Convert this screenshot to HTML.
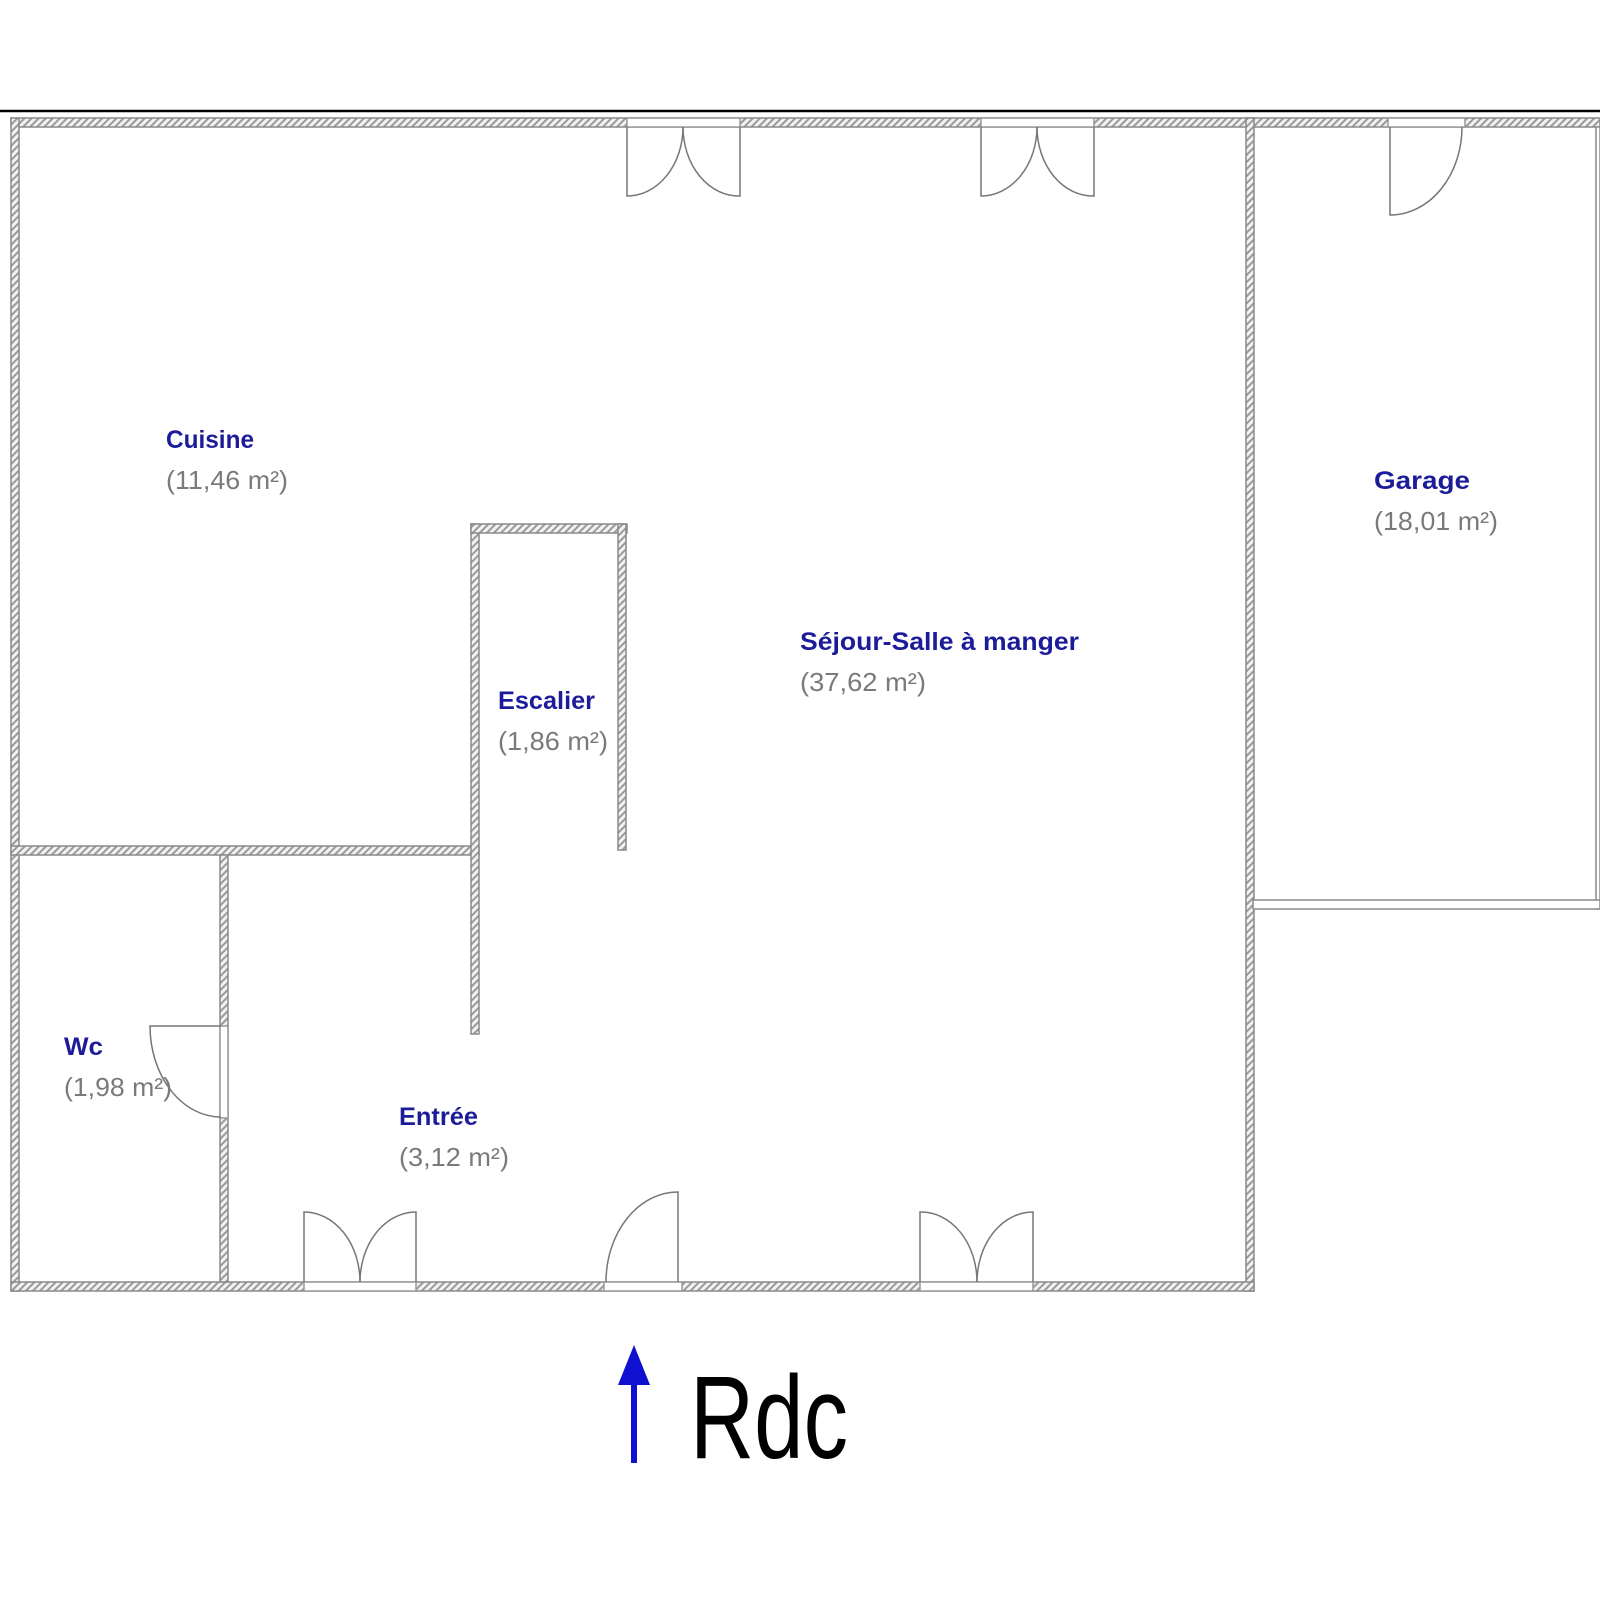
<!DOCTYPE html>
<html><head><meta charset="utf-8"><style>
html,body{margin:0;padding:0;background:#fff;}
svg{display:block;}
.l{font-family:"Liberation Sans",sans-serif;font-weight:bold;font-size:25px;fill:#1c1c9a;}
.a{font-family:"Liberation Sans",sans-serif;font-size:26px;fill:#7a7a7a;}
</style></head><body>
<svg width="1600" height="1600" viewBox="0 0 1600 1600" xmlns="http://www.w3.org/2000/svg">
<defs>
<pattern id="h" width="5" height="5" patternUnits="userSpaceOnUse" patternTransform="rotate(45)">
<rect width="5" height="5" fill="#f2f2f2"/><rect width="2" height="5" fill="#9a9a9a"/>
</pattern>
</defs>
<line x1="0" y1="111" x2="1600" y2="111" stroke="#000" stroke-width="2.5"/>
<g fill="url(#h)" stroke="#8a8a8a" stroke-width="1.5">
<!-- top wall main -->
<rect x="11" y="118" width="1242" height="9"/>
<!-- garage top -->
<rect x="1253" y="118" width="347" height="9"/>
<!-- left -->
<rect x="11" y="118" width="8" height="1173"/>
<!-- main right -->
<rect x="1246" y="118" width="8" height="1173"/>
<!-- bottom -->
<rect x="11" y="1282" width="1243" height="9"/>
<!-- cuisine/wc horizontal -->
<rect x="11" y="846" width="468" height="9"/>
<!-- escalier left -->
<rect x="471" y="524" width="8" height="510"/>
<!-- escalier top -->
<rect x="471" y="524" width="156" height="9"/>
<!-- escalier right -->
<rect x="618" y="524" width="8" height="326"/>
<!-- wc wall -->
<rect x="220" y="855" width="8" height="427"/>
</g>
<!-- garage right & bottom (plain) -->
<rect x="1596" y="127" width="4" height="782" fill="#fff" stroke="#8a8a8a" stroke-width="1.5"/>
<rect x="1253" y="900" width="347" height="9" fill="#fff" stroke="#8a8a8a" stroke-width="1.5"/>
<!-- door openings -->
<g fill="#fff" stroke="#999" stroke-width="1.5">
<rect x="627" y="118" width="113" height="9"/>
<rect x="981" y="118" width="113" height="9"/>
<rect x="1388" y="118" width="77" height="9"/>
<rect x="304" y="1282" width="112" height="9"/>
<rect x="604" y="1282" width="78" height="9"/>
<rect x="920" y="1282" width="113" height="9"/>
<rect x="220" y="1026" width="8" height="92"/>
</g>
<g fill="none" stroke="#777" stroke-width="1.5">
<!-- top double door 1 -->
<path d="M627 127 V196 A56 69 0 0 0 683 127"/>
<path d="M740 127 V196 A56 69 0 0 1 683 127"/>
<!-- top double door 2 -->
<path d="M981 127 V196 A56 69 0 0 0 1037 127"/>
<path d="M1094 127 V196 A56 69 0 0 1 1037 127"/>
<!-- garage door -->
<path d="M1390 127 V215 A72 88 0 0 0 1462 127"/>
<!-- bottom double door 1 -->
<path d="M304 1282 V1212 A56 70 0 0 1 360 1282"/>
<path d="M416 1282 V1212 A56 70 0 0 0 360 1282"/>
<!-- single door -->
<path d="M678 1282 V1192 A72 90 0 0 0 606 1282"/>
<!-- bottom double door 2 -->
<path d="M920 1282 V1212 A56 70 0 0 1 977 1282"/>
<path d="M1033 1282 V1212 A56 70 0 0 0 977 1282"/>
<!-- wc door -->
<path d="M221 1026 H150 A71 91 0 0 0 221 1117"/>
</g>
<!-- labels -->
<text class="l" x="166" y="448" textLength="88" lengthAdjust="spacingAndGlyphs">Cuisine</text>
<text class="a" x="166" y="489" textLength="122" lengthAdjust="spacingAndGlyphs">(11,46 m²)</text>
<text class="l" x="1374" y="489" textLength="96" lengthAdjust="spacingAndGlyphs">Garage</text>
<text class="a" x="1374" y="530" textLength="124" lengthAdjust="spacingAndGlyphs">(18,01 m²)</text>
<text class="l" x="800" y="650" textLength="279" lengthAdjust="spacingAndGlyphs">Séjour-Salle à manger</text>
<text class="a" x="800" y="691" textLength="126" lengthAdjust="spacingAndGlyphs">(37,62 m²)</text>
<text class="l" x="498" y="709" textLength="97" lengthAdjust="spacingAndGlyphs">Escalier</text>
<text class="a" x="498" y="750" textLength="110" lengthAdjust="spacingAndGlyphs">(1,86 m²)</text>
<text class="l" x="64" y="1055" textLength="39" lengthAdjust="spacingAndGlyphs">Wc</text>
<text class="a" x="64" y="1096" textLength="108" lengthAdjust="spacingAndGlyphs">(1,98 m²)</text>
<text class="l" x="399" y="1125" textLength="79" lengthAdjust="spacingAndGlyphs">Entrée</text>
<text class="a" x="399" y="1166" textLength="110" lengthAdjust="spacingAndGlyphs">(3,12 m²)</text>
<!-- arrow -->
<line x1="634" y1="1380" x2="634" y2="1463" stroke="#1010d0" stroke-width="6"/>
<polygon points="634,1345 618,1385 650,1385" fill="#1010d0"/>
<text x="690" y="1458" font-family="Liberation Sans, sans-serif" font-size="118" fill="#000" textLength="158" lengthAdjust="spacingAndGlyphs">Rdc</text>
</svg>
</body></html>
